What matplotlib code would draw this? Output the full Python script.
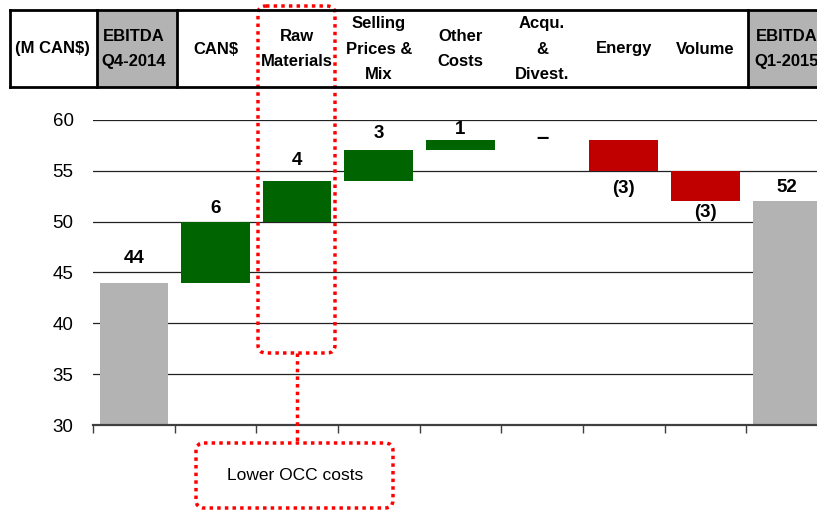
import matplotlib.pyplot as plt
import matplotlib.transforms as mtransforms
from matplotlib.patches import FancyBboxPatch, Rectangle

# donnees du graphique en cascade (M CAN$)
categories = ["EBITDA\nQ4-2014", "CAN$", "Raw\nMaterials", "Selling\nPrices &\nMix",
              "Other\nCosts", "Acqu.\n&\nDivest.", "Energy", "Volume", "EBITDA\nQ1-2015"]
valeurs = [44, 6, 4, 3, 1, 0, -3, -3, 52]
totaux = [True, False, False, False, False, False, False, False, True]
unite = "(M CAN$)"
note = "Lower OCC costs"

# ecart (en pixels) entre chaque barre et son etiquette, comme sur l'original
decal_px = [16, 5, 12, 8, 2, 0, 9, 3, 5]

GRIS = "#b3b3b3"
VERT = "#006400"
ROUGE = "#c00000"

plt.rcParams['font.family'] = ['Liberation Sans', 'DejaVu Sans']

W, H = 817, 511
fig = plt.figure(figsize=(W / 100, H / 100), dpi=100)

# axe principal : 9 colonnes, la derniere depasse un peu a droite (comme l'original)
ax = fig.add_axes([93 / W, (H - 425) / H, 9 * 81.65 / W, 305 / H])

# calcul des bas / hauteurs de la cascade
bas, haut, couleurs, textes = [], [], [], []
cumul = 0
for v, t in zip(valeurs, totaux):
    if t:
        bas.append(0)
        haut.append(v)
        couleurs.append(GRIS)
        cumul = v
        textes.append(str(v))
    else:
        if v >= 0:
            bas.append(cumul)
            haut.append(v)
            couleurs.append(VERT)
            textes.append(str(v) if v > 0 else "–")
        else:
            bas.append(cumul + v)
            haut.append(-v)
            couleurs.append(ROUGE)
            textes.append("(%d)" % (-v))
        cumul += v

X = [i + 0.5 for i in range(len(categories))]
ax.bar(X, haut, bottom=bas, width=0.84, color=couleurs, zorder=3)

# etiquettes des valeurs
for x, b, h, v, t, txt, d in zip(X, bas, haut, valeurs, totaux, textes, decal_px):
    d = d * 0.72  # pixels -> points
    if v == 0 and not t:
        ax.annotate(txt, (x, b), xytext=(0, 1), textcoords="offset points",
                    ha="center", va="center", fontsize=16, fontweight="bold")
    elif v > 0 or t:
        ax.annotate(txt, (x, b + h), xytext=(0, d), textcoords="offset points",
                    ha="center", va="bottom", fontsize=13.5, fontweight="bold")
    else:
        ax.annotate(txt, (x, b), xytext=(0, -d), textcoords="offset points",
                    ha="center", va="top", fontsize=13.5, fontweight="bold")

ax.set_xlim(0, len(categories))
ax.set_ylim(30, 60)
ax.set_yticks(range(30, 61, 5))
ax.set_xticks(range(len(categories) + 1))
ax.set_xticklabels([])
ax.tick_params(axis="y", length=0, pad=14, labelsize=13.5)
ax.tick_params(axis="x", length=6, width=1, color="#404040")
ax.yaxis.grid(True, color="#222222", lw=0.9)
ax.set_axisbelow(True)
for c in ["left", "right", "top"]:
    ax.spines[c].set_visible(False)
ax.spines["bottom"].set_color("#404040")
ax.spines["bottom"].set_linewidth(1.6)
ax.spines["bottom"].set_zorder(4)

# axe de decoration en pixels (tableau d'en-tete, cadres rouges)
deco = fig.add_axes([0, 0, 1, 1], zorder=5)
deco.set_xlim(0, W)
deco.set_ylim(H, 0)
deco.axis("off")

# en-tete
deco.add_patch(Rectangle((97, 10), 80, 77, facecolor=GRIS, edgecolor="none"))
deco.add_patch(Rectangle((748, 10), 80, 77, facecolor=GRIS, edgecolor="none"))
deco.plot([10, W], [10, 10], color="black", lw=2)
deco.plot([10, W], [87, 87], color="black", lw=2)
for xv in [10, 97, 177, 748]:
    deco.plot([xv, xv], [10, 87], color="black", lw=2)

tr = mtransforms.blended_transform_factory(ax.transData, deco.transData)
deco.text(-0.5, 49, unite, transform=tr, ha="center", va="center",
          fontsize=12, fontweight="bold")
for x, nom in zip(X, categories):
    deco.text(x, 49, nom, transform=tr, ha="center", va="center",
              fontsize=12, fontweight="bold", linespacing=1.9)

# cadres rouges pointilles
pointille = (0, (1, 1.2))
deco.add_patch(FancyBboxPatch((258, 6), 77, 347, boxstyle="round,pad=0,rounding_size=8",
                              fill=False, edgecolor="red", lw=2.5, linestyle=pointille))
deco.plot([297, 297], [353, 443], color="red", lw=2.5, linestyle=pointille)
deco.add_patch(FancyBboxPatch((196, 443), 197, 65, boxstyle="round,pad=0,rounding_size=8",
                              fill=False, edgecolor="red", lw=2.5, linestyle=pointille))
deco.text(295, 476, note, ha="center", va="center", fontsize=12.5)

fig.savefig("out.png", dpi=100)
